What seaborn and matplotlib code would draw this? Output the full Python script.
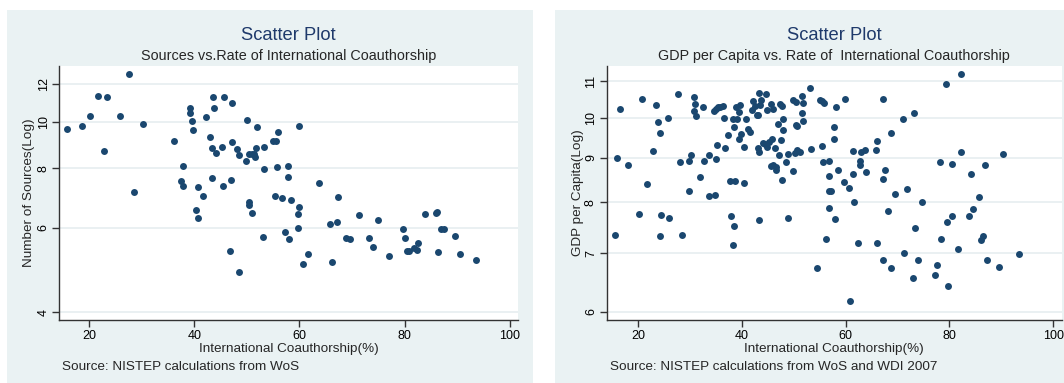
import matplotlib
matplotlib.use('Agg')
import matplotlib.pyplot as plt
from matplotlib.patches import Rectangle
from matplotlib.ticker import NullLocator, FixedLocator, FixedFormatter
import seaborn as sns

# left panel: international coauthorship (%) vs number of sources
coauth_src = [15.9, 18.7, 20.1, 21.8, 23.5, 22.9, 25.9, 27.6, 28.5, 30.2,
              36.2, 37.8, 37.4, 37.8, 39.1, 39.1, 39.5, 39.8, 40.7, 40.4,
              40.7, 41.6, 42.2, 43.0, 43.3, 43.3, 43.6, 43.7, 44.1, 45.3,
              45.6, 45.5, 47.1, 47.2, 47.0, 48.1, 48.6, 46.8, 48.5, 50.0,
              49.8, 50.4, 50.4, 51.0, 50.5, 51.0, 51.4, 51.5, 51.7, 51.9,
              53.2, 53.3, 53.0, 55.0, 55.5, 55.9, 55.7, 55.4, 56.7, 57.2,
              57.8, 57.9, 58.4, 58.1, 59.9, 59.9, 59.7, 59.8, 60.7, 61.6,
              63.7, 65.9, 67.2, 67.3, 66.2, 68.9, 69.6, 71.3, 73.2, 73.9,
              74.9, 77.1, 79.6, 80.0, 80.5, 80.9, 81.8, 82.6, 82.4, 83.9,
              85.9, 86.1, 86.4, 87.0, 87.4, 89.6, 90.6, 93.6]
sources = [9.65, 9.81, 10.28, 11.34, 11.30, 8.71, 10.28, 12.62, 7.14, 9.89,
           9.12, 8.08, 7.51, 7.35, 10.70, 10.44, 10.02, 9.62, 7.30, 6.53,
           6.29, 7.01, 10.26, 9.29, 8.82, 7.64, 11.30, 10.70, 8.60, 8.88,
           11.30, 7.36, 10.94, 9.06, 7.55, 8.78, 8.51, 5.36, 4.85, 10.10,
           8.27, 6.80, 6.70, 6.45, 8.55, 8.57, 8.55, 8.45, 8.81, 9.74,
           8.86, 7.97, 5.75, 9.14, 9.14, 9.51, 8.06, 7.01, 6.94, 5.88,
           8.09, 7.67, 6.87, 5.68, 9.79, 6.65, 6.42, 6.00, 5.04, 5.30,
           7.45, 6.12, 6.18, 6.98, 5.09, 5.72, 5.69, 6.37, 5.72, 5.46,
           6.24, 5.23, 5.98, 5.72, 5.38, 5.38, 5.45, 5.57, 5.40, 6.43,
           6.44, 6.47, 5.34, 5.97, 5.97, 5.76, 5.30, 5.13]

# right panel: international coauthorship (%) vs GDP per capita
coauth_gdp = [15.9, 16.5, 15.5, 18.0, 20.7, 20.1, 21.7, 22.9, 23.5, 23.8,
              24.1, 24.3, 24.1, 25.8, 26.0, 27.6, 28.1, 28.5, 29.7, 29.7,
              30.2, 30.7, 30.9, 30.8, 31.1, 31.8, 32.5, 32.7, 33.7, 33.6,
              34.8, 34.6, 35.0, 35.4, 34.9, 35.2, 35.8, 36.3, 36.6, 36.7,
              37.3, 37.7, 37.8, 38.3, 38.4, 38.7, 38.5, 38.3, 38.9, 39.0,
              39.4, 39.4, 39.7, 39.9, 40.3, 40.4, 40.7, 41.2, 41.5, 42.1,
              42.0, 42.5, 42.9, 43.1, 43.2, 43.1, 43.3, 43.3, 43.6, 43.5,
              44.1, 44.6, 44.5, 44.8, 44.8, 45.2, 45.5, 45.7, 46.0, 45.5,
              46.0, 46.4, 46.5, 46.6, 47.0, 47.1, 47.3, 47.5, 47.8, 47.7,
              48.0, 48.0, 48.4, 48.8, 48.8, 49.8, 50.4, 49.8, 50.4, 50.6,
              50.3, 50.6, 51.1, 51.5, 51.5, 51.7, 51.7, 53.2, 53.4, 54.4,
              55.0, 55.5, 55.9, 55.4, 55.7, 56.2, 56.8, 56.8, 56.8, 57.2,
              56.7, 57.8, 57.7, 58.0, 58.2, 58.5, 59.9, 59.7, 60.7, 60.8,
              61.5, 61.5, 61.6, 62.4, 62.7, 62.8, 62.9, 63.7, 63.9, 65.8,
              66.0, 66.0, 67.1, 67.1, 67.5, 67.2, 68.1, 68.7, 68.7, 69.5,
              71.0, 71.2, 71.8, 73.1, 73.3, 72.9, 73.9, 74.8, 77.7, 77.3,
              78.1, 78.3, 79.3, 79.5, 79.8, 80.5, 80.5, 81.7, 82.3, 82.3,
              83.7, 84.2, 84.6, 85.7, 86.0, 86.4, 86.9, 87.3, 89.5, 90.4,
              93.4]
gdp = [9.00, 10.23, 7.35, 8.82, 10.50, 7.77, 8.40, 9.15, 10.33, 9.88,
       9.61, 7.74, 7.33, 10.00, 7.68, 10.65, 8.89, 7.34, 8.91, 8.25,
       9.06, 10.55, 10.37, 10.18, 10.04, 8.56, 10.28, 8.91, 9.06, 8.13,
       8.16, 10.18, 10.24, 10.27, 8.96, 9.30, 10.28, 10.32, 10.00, 9.22,
       9.54, 8.47, 7.72, 9.96, 9.76, 8.46, 7.52, 7.16, 10.28, 9.96,
       9.44, 10.15, 10.33, 9.57, 8.41, 9.26, 9.97, 9.70, 9.62, 10.45,
       10.19, 10.31, 10.06, 10.06, 10.67, 9.22, 9.14, 7.64, 10.47, 10.33,
       9.36, 10.65, 9.34, 9.26, 10.21, 9.38, 10.35, 9.44, 10.24, 8.81,
       8.82, 9.22, 8.78, 8.71, 9.83, 9.06, 10.36, 9.42, 10.31, 8.49,
       9.67, 9.97, 8.89, 9.08, 7.68, 10.47, 10.41, 8.69, 9.80, 9.78,
       9.10, 9.19, 9.14, 10.58, 10.11, 10.40, 9.90, 10.80, 9.21, 6.73,
       10.47, 10.45, 10.39, 9.28, 8.89, 7.27, 8.93, 8.58, 8.24, 8.25,
       7.88, 9.75, 9.44, 7.66, 10.27, 8.72, 10.49, 8.45, 8.31, 6.17,
       9.15, 8.63, 8.00, 7.20, 8.93, 8.82, 9.14, 9.19, 8.67, 9.19,
       9.41, 7.20, 10.49, 8.51, 8.72, 6.88, 7.83, 9.61, 6.74, 8.19,
       9.96, 7.01, 8.28, 10.12, 7.49, 6.56, 6.87, 8.02, 6.79, 6.61,
       8.89, 7.27, 10.91, 7.60, 6.42, 7.73, 8.84, 7.08, 11.21, 9.13,
       7.72, 8.62, 7.87, 8.11, 7.25, 7.33, 8.83, 6.87, 6.75, 9.09,
       6.99]

x_ticks = [20, 40, 60, 80, 100]
src_ticks = [4, 6, 8, 10, 12]
gdp_ticks = [6, 7, 8, 9, 10, 11]

navy = '#1a476f'
panel_bg = '#eaf2f3'
grid_c = '#e6eef0'
W, H = 1064, 383

sns.set_style('white')
plt.rcParams['font.family'] = ['Liberation Sans', 'DejaVu Sans']

fig = plt.figure(figsize=(W / 100, H / 100), dpi=100)
fig.patches.append(Rectangle((7 / W, 0), 526 / W, 373 / H, transform=fig.transFigure,
                             facecolor=panel_bg, edgecolor='none', zorder=-10))
fig.patches.append(Rectangle((555 / W, 0), 509 / W, 373 / H, transform=fig.transFigure,
                             facecolor=panel_bg, edgecolor='none', zorder=-10))


def px(x, y):
    return x / W, 1 - y / H


def setup_axes(ax, yticks, ylim, xlim):
    ax.set_facecolor('white')
    ax.set_yscale('log')
    ax.set_xlim(*xlim)
    ax.set_ylim(*ylim)
    ax.set_xticks(x_ticks)
    ax.yaxis.set_major_locator(FixedLocator(yticks))
    ax.yaxis.set_major_formatter(FixedFormatter([str(t) for t in yticks]))
    ax.yaxis.set_minor_locator(NullLocator())
    for t in yticks:
        ax.axhline(t, color=grid_c, lw=1.2, zorder=0)
    for s in ['top', 'right']:
        ax.spines[s].set_visible(False)
    for s in ['left', 'bottom']:
        ax.spines[s].set_color('#333333')
        ax.spines[s].set_linewidth(1)
    ax.tick_params(axis='both', direction='out', length=5, width=1, color='#333333',
                   labelsize=9, labelcolor='black', pad=2, left=True, bottom=True)
    for lbl in ax.get_yticklabels():
        lbl.set_rotation(90)
        lbl.set_va('center')
    ax.set_xlabel('')
    ax.set_ylabel('')


# left chart
ax1 = fig.add_axes([59.3 / W, 63 / H, 459 / W, 254 / H])
sns.scatterplot(x=coauth_src, y=sources, ax=ax1, color=navy, s=25, linewidth=0, zorder=3)
setup_axes(ax1, src_ticks, (3.85, 13.09), (14.35, 101.6))

# right chart
ax2 = fig.add_axes([606.7 / W, 63 / H, 455 / W, 254 / H])
sns.scatterplot(x=coauth_gdp, y=gdp, ax=ax2, color=navy, s=25, linewidth=0, zorder=3)
setup_axes(ax2, gdp_ticks, (5.875, 11.45), (13.9, 101.66))

# texts
title_c = '#1f3a6b'
fig.text(*px(288.8, 35), 'Scatter Plot', ha='center', va='center', fontsize=13.2, color=title_c)
fig.text(*px(288.8, 56), 'Sources vs.Rate of International Coauthorship', ha='center', va='center',
         fontsize=10.4)
fig.text(*px(288.8, 349), 'International Coauthorship(%)', ha='center', va='center', fontsize=9.7)
fig.text(*px(61.6, 367), 'Source: NISTEP calculations from WoS', ha='left', va='center', fontsize=9.7)
fig.text(*px(29.4, 193), 'Number of Sources(Log)', ha='center', va='center', rotation=90, fontsize=9.7)

fig.text(*px(834, 35), 'Scatter Plot', ha='center', va='center', fontsize=13.2, color=title_c)
fig.text(*px(834, 56), 'GDP per Capita vs. Rate of  International Coauthorship', ha='center',
         va='center', fontsize=10.4)
fig.text(*px(834, 349), 'International Coauthorship(%)', ha='center', va='center', fontsize=9.7)
fig.text(*px(609.5, 367), 'Source: NISTEP calculations from WoS and WDI 2007', ha='left', va='center',
         fontsize=9.7)
fig.text(*px(578, 193), 'GDP per Capita(Log)', ha='center', va='center', rotation=90, fontsize=9.7)

fig.savefig('out.png', dpi=100)
